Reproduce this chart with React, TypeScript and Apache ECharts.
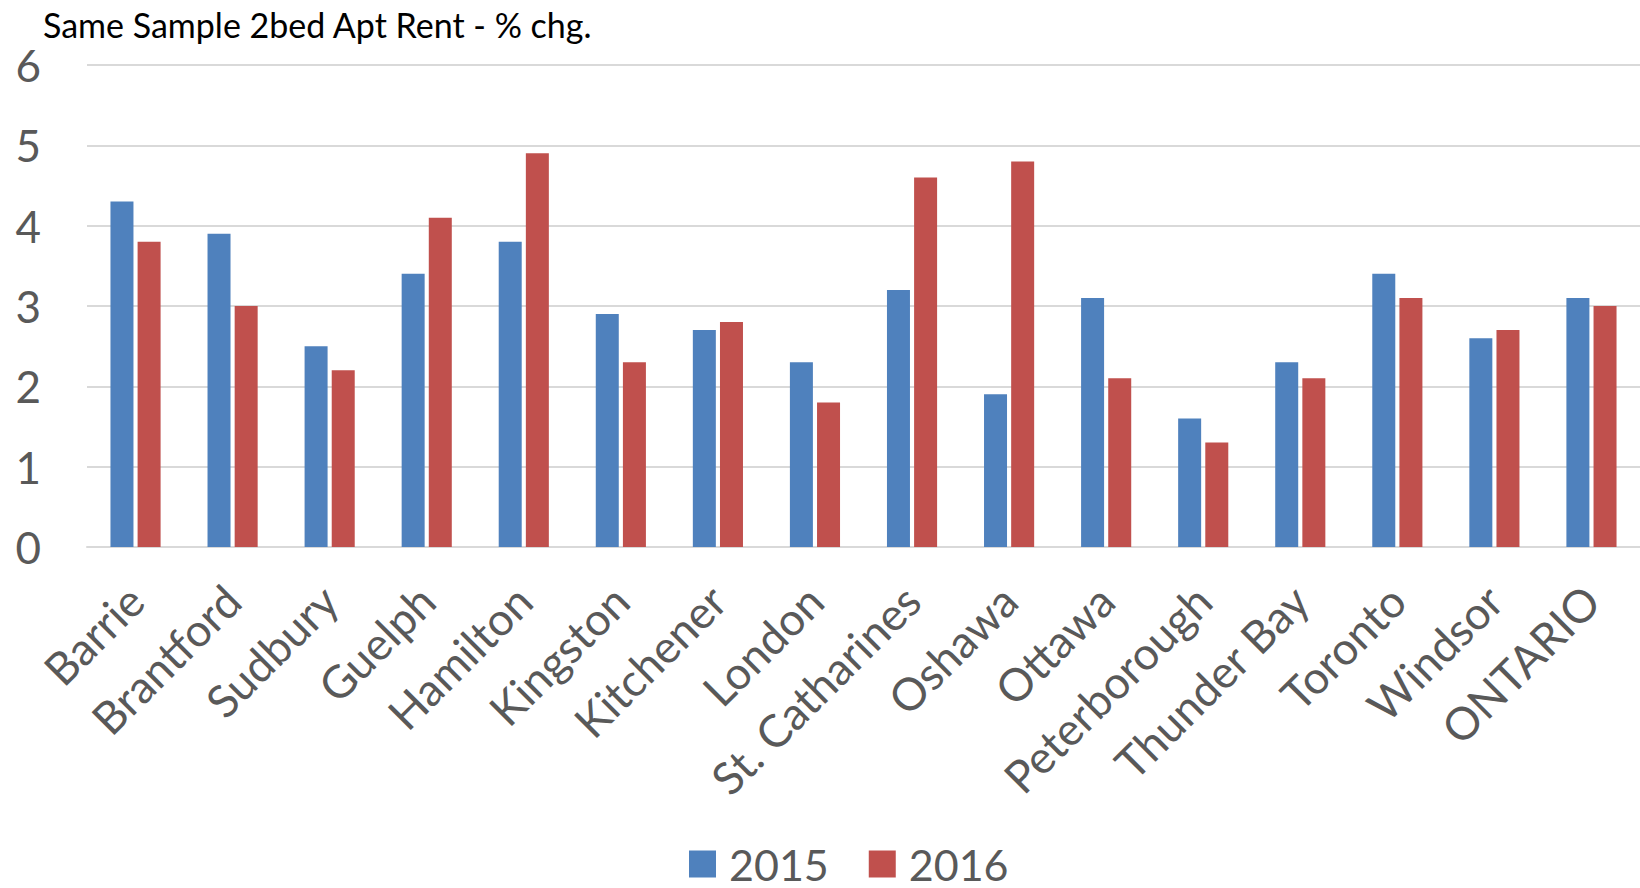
import React, { useEffect, useRef } from "react";
import * as echarts from "echarts";

const categories = ["Barrie", "Brantford", "Sudbury", "Guelph", "Hamilton", "Kingston", "Kitchener", "London", "St. Catharines", "Oshawa", "Ottawa", "Peterborough", "Thunder Bay", "Toronto", "Windsor", "ONTARIO"];
const values2015 = [4.3, 3.9, 2.5, 3.4, 3.8, 2.9, 2.7, 2.3, 3.2, 1.9, 3.1, 1.6, 2.3, 3.4, 2.6, 3.1];
const values2016 = [3.8, 3.0, 2.2, 4.1, 4.9, 2.3, 2.8, 1.8, 4.6, 4.8, 2.1, 1.3, 2.1, 3.1, 2.7, 3.0];
const seriesNames = ["2015", "2016"];
const titleText = "Same Sample 2bed Apt Rent - % chg.";

const FONT = "Lato, 'Open Sans', sans-serif";

export default function App() {
  const ref = useRef<HTMLDivElement>(null);
  useEffect(() => {
    if (!ref.current) return;
    const chart = echarts.init(ref.current, undefined, { renderer: "svg" });
    chart.setOption({
      animation: false,
      backgroundColor: "#ffffff",
      title: {
        text: titleText,
        left: 38,
        top: 2,
        textStyle: { fontFamily: FONT, fontSize: 34, fontWeight: "normal", color: "#000000" },
      },
      legend: {
        top: 836,
        left: 684,
        itemWidth: 27,
        itemHeight: 27,
        itemGap: 40,
        icon: "rect",
        textStyle: { fontFamily: FONT, fontSize: 43, lineHeight: 46, color: "#595959", padding: [0, 0, 0, 8] },
        data: seriesNames,
      },
      grid: { left: 87, right: 0, top: 65, bottom: 341, containLabel: false },
      xAxis: {
        type: "category",
        data: categories,
        axisLine: { lineStyle: { color: "#D9D9D9", width: 2 } },
        axisTick: { show: false },
        axisLabel: { rotate: 45, interval: 0, fontFamily: FONT, fontSize: 45, color: "#595959", margin: 46 },
      },
      yAxis: {
        type: "value",
        min: 0,
        max: 6,
        interval: 1,
        axisLine: { show: false },
        axisTick: { show: false },
        splitLine: { lineStyle: { color: "#D9D9D9", width: 2 } },
        axisLabel: { fontFamily: FONT, fontSize: 44, color: "#595959", margin: 46 },
      },
      series: [
        {
          name: seriesNames[0],
          type: "bar",
          data: values2015,
          barWidth: 23,
          barGap: "18%",
          itemStyle: { color: "#4F81BD" },
        },
        {
          name: seriesNames[1],
          type: "bar",
          data: values2016,
          barWidth: 23,
          itemStyle: { color: "#C0504D" },
        },
      ],
    });
    return () => chart.dispose();
  }, []);
  return <div ref={ref} style={{ position: "fixed", left: 0, top: 0, width: 1640, height: 888 }} />;
}
